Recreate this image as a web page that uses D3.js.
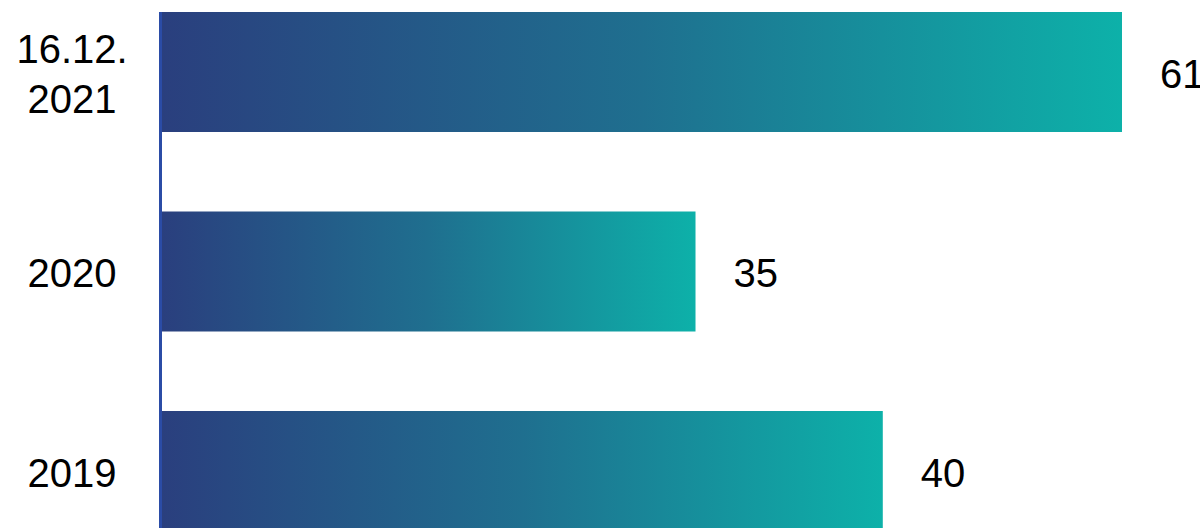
<!DOCTYPE html>
<html>
<head>
<meta charset="utf-8">
<script src="https://cdn.jsdelivr.net/npm/d3@7"></script>
<style>
  html, body { margin: 0; padding: 0; background: #fff; }
  svg { display: block; font-family: "Liberation Sans", Arial, sans-serif; }
</style>
</head>
<body>
<div id="chart"></div>
<script>
// categories, top to bottom
const categories = ['16.12.\n2021', '2020', '2019']
// values shown as labels
const labelValues = [61, 35, 40]
// bar lengths as drawn in the picture (same unit as the labels)
const barValues = [61, 33.9, 45.8]

const width = 1200
const height = 528
const margin = { top: 12, right: 78, bottom: 0, left: 162 }

const svg = d3.select('#chart').append('svg')
  .attr('width', width)
  .attr('height', height)

const defs = svg.append('defs')
const grad = defs.append('linearGradient')
  .attr('id', 'barGrad')
  .attr('x1', '0%').attr('x2', '100%')
  .attr('y1', '0%').attr('y2', '0%')
grad.append('stop').attr('offset', '0%').attr('stop-color', '#2a3f7e')
grad.append('stop').attr('offset', '50%').attr('stop-color', '#1f6f8f')
grad.append('stop').attr('offset', '100%').attr('stop-color', '#0db1a9')

// scales
const xScale = d3.scaleLinear()
  .domain([0, 61])
  .range([margin.left, 1122])

// one band per row, each 199.5px tall, bar drawn in the top 120px
const yScale = d3.scaleBand()
  .domain(categories)
  .range([margin.top, margin.top + 199.5 * 3])
  .padding(0)

const barH = 120

// bars
svg.selectAll('.bar')
  .data(categories)
  .enter().append('rect')
  .attr('class', 'bar')
  .attr('x', xScale(0))
  .attr('y', d => yScale(d))
  .attr('width', (d, i) => xScale(barValues[i]) - xScale(0))
  .attr('height', barH)
  .attr('fill', 'url(#barGrad)')

// axis line
svg.append('line')
  .attr('x1', margin.left - 1.5)
  .attr('x2', margin.left - 1.5)
  .attr('y1', margin.top)
  .attr('y2', height)
  .attr('stroke', '#2b4ca6')
  .attr('stroke-width', 3)

// value labels
svg.selectAll('.value')
  .data(categories)
  .enter().append('text')
  .attr('class', 'value')
  .attr('x', (d, i) => xScale(barValues[i]) + 38)
  .attr('y', d => yScale(d) + barH / 2 + 5)
  .attr('dominant-baseline', 'middle')
  .attr('font-size', 40)
  .attr('fill', '#000')
  .text((d, i) => labelValues[i])

// category labels
const cat = svg.selectAll('.cat')
  .data(categories)
  .enter().append('text')
  .attr('class', 'cat')
  .attr('text-anchor', 'middle')
  .attr('font-size', 40)
  .attr('fill', '#000')

cat.each(function (d) {
  const lines = d.split('\n')
  const cy = yScale(d) + barH / 2 + 5
  const lh = 50
  lines.forEach((t, j) => {
    d3.select(this).append('tspan')
      .attr('x', 72)
      .attr('y', cy + (j - (lines.length - 1) / 2) * lh)
      .attr('dominant-baseline', 'middle')
      .text(t)
  })
})
</script>
</body>
</html>
